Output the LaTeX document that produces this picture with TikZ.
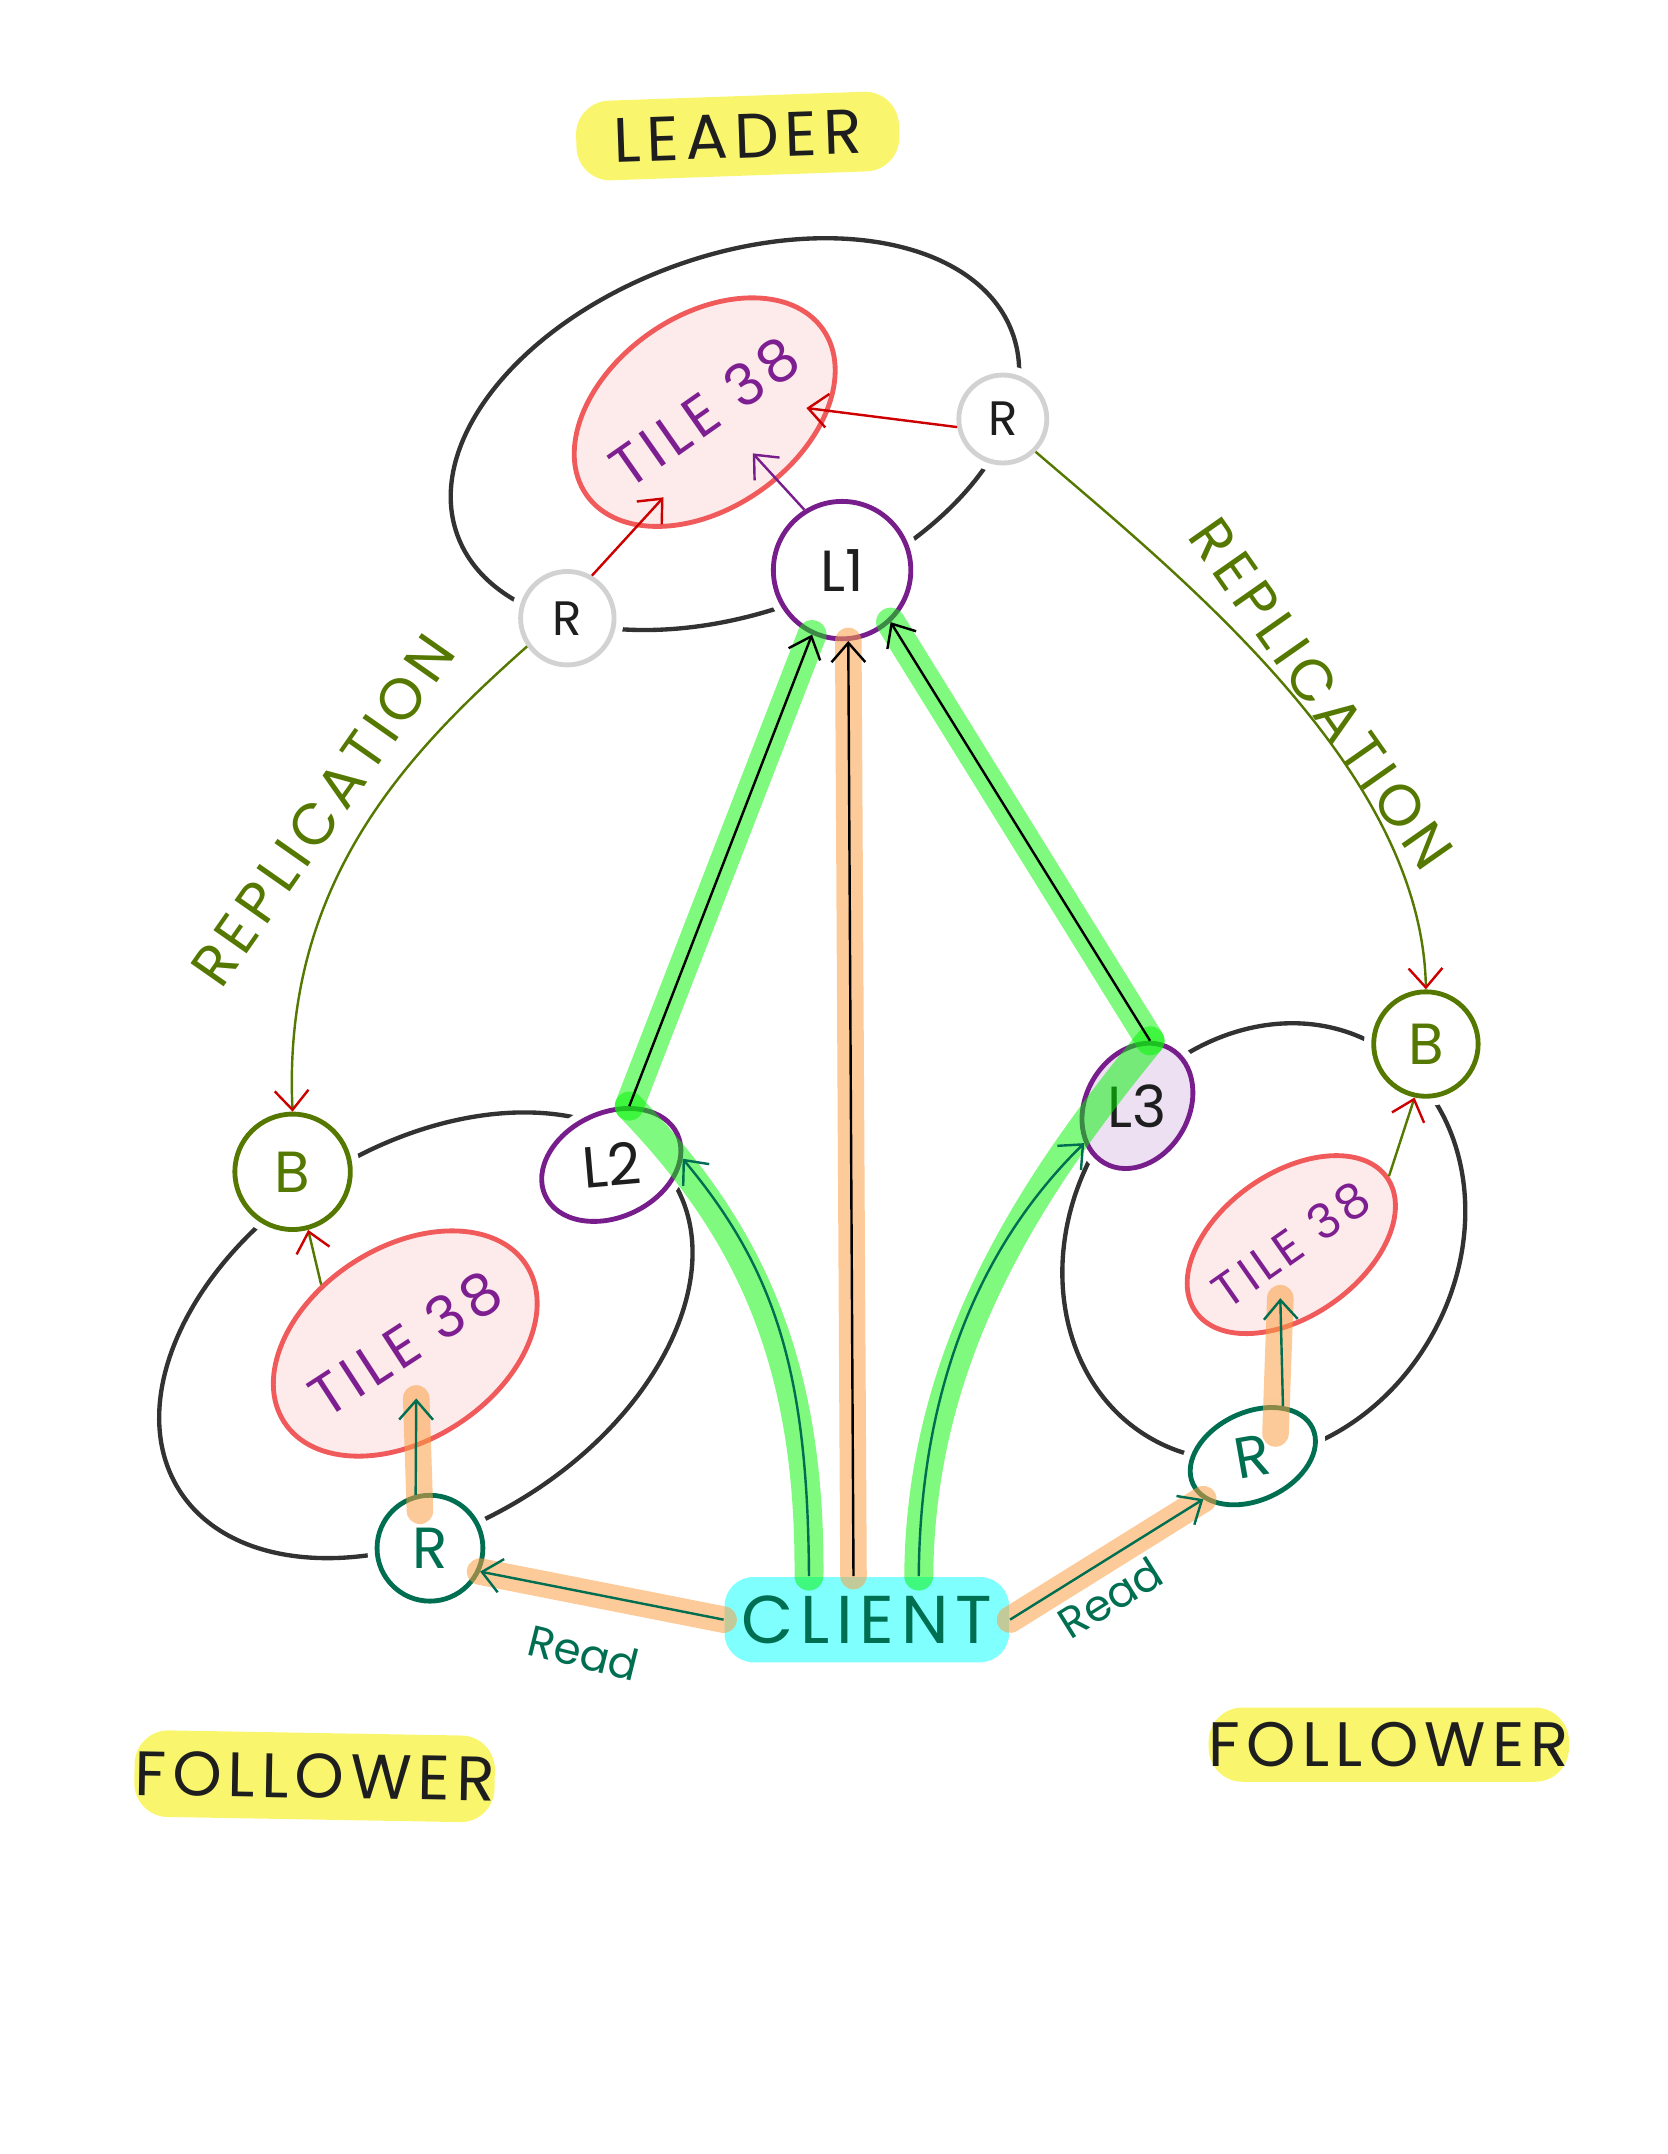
\documentclass[tikz,border=0pt]{standalone}
\usepackage{fontspec}
\setmainfont{Poppins}
\newfontfamily\hand[LetterSpace=10]{Poppins}
\usetikzlibrary{arrows.meta,calc,shapes.geometric}

\definecolor{ringgray}{RGB}{50,50,50}
\definecolor{inkblack}{RGB}{30,30,30}
\definecolor{tileedge}{RGB}{240,90,90}
\definecolor{tilefill}{RGB}{253,234,234}
\definecolor{tilepurple}{RGB}{125,30,145}
\definecolor{lpurple}{RGB}{120,30,140}
\definecolor{lfill}{RGB}{236,224,242}
\definecolor{olivegreen}{RGB}{85,120,0}
\definecolor{arrowred}{RGB}{205,0,0}
\definecolor{readteal}{RGB}{0,110,80}
\definecolor{nodegray}{RGB}{210,210,210}
\definecolor{hlyellow}{RGB}{249,246,110}
\definecolor{hlgreen}{RGB}{0,245,0}
\definecolor{hlorange}{RGB}{250,160,70}
\definecolor{clientcyan}{RGB}{128,255,255}

\newcommand{\tiletxt}[1]{\makebox[0pt]{\hand\fontsize{#1}{14}\selectfont TILE 38}}

\tikzset{
  ring/.style={draw=ringgray, line width=0.9pt},
  tile/.style={ellipse, draw=tileedge, fill=tilefill, line width=1pt,
    text=tilepurple, minimum width=2.1cm, minimum height=1.4cm, inner sep=0pt},
  pnode/.style={fill=white, line width=1pt, inner sep=0pt,
    font=\fontsize{12}{14}\selectfont, text=inkblack,
    preaction={draw=white, line width=4pt}},
  lnode/.style={pnode, draw=lpurple, ellipse},
  bnode/.style={pnode, draw=olivegreen, circle, text=olivegreen, minimum size=0.78cm},
  rnode/.style={pnode, draw=nodegray, circle, minimum size=0.68cm,
    font=\fontsize{10}{12}\selectfont},
  fnode/.style={pnode, draw=readteal, text=readteal, circle, minimum size=0.77cm},
  hlbox/.style={fill=hlyellow, rounded corners=7pt, text=inkblack, inner sep=0pt,
    font=\hand\fontsize{13}{15}\selectfont},
  glow/.style={draw=hlgreen, opacity=0.5, line width=6pt, line cap=round},
  oglow/.style={draw=hlorange, opacity=0.55, line width=5.5pt, line cap=round},
  thin/.style={line width=0.5pt},
  redtip/.style={-{Straight Barb[color=arrowred, length=4pt, width=7pt]}},
  replbl/.style={text=olivegreen, font=\hand\fontsize{12}{14}\selectfont},
  readlbl/.style={text=readteal, font=\fontsize{9}{11}\selectfont},
}

\begin{document}
\begin{tikzpicture}[x=0.01cm, y=-0.01cm, >={Straight Barb[length=4pt, width=7pt]}]
    \useasboundingbox (0,0) rectangle (1214,1568);

    % rings
    \draw[ring, rotate around={20:(535,316)}] (535,316) ellipse [x radius=215, y radius=130];
    \draw[ring, rotate around={32:(310,972)}] (310,972) ellipse [x radius=212, y radius=138];
    \draw[ring, rotate around={60:(920,904)}] (920,904) ellipse [x radius=165, y radius=140];

    % titles
    \node[hlbox, minimum width=2.35cm, minimum height=0.58cm, rotate=2] (leader) at (537,99) {LEADER};
    \node[hlbox, minimum width=2.58cm, minimum height=0.63cm, rotate=-1] (followA) at (229,1293) {FOLLOWER};
    \node[hlbox, minimum width=2.57cm, minimum height=0.54cm] (followB) at (1011,1270) {FOLLOWER};

    % client
    \node[fill=clientcyan, rounded corners=6pt, minimum width=2.07cm, minimum height=0.62cm,
        inner sep=0pt, text=readteal, font=\hand\fontsize{14}{16}\selectfont] (client) at (631,1179) {CLIENT};

    % tiles
    \node[tile, rotate=35] (tileL) at (513,300) {\tiletxt{12}};
    \node[tile, rotate=33] (tileFa) at (295,978) {\tiletxt{12}};
    \node[tile, rotate=35, minimum width=1.7cm, minimum height=1.04cm] (tileFb) at (940,906) {\tiletxt{10}};

    % leader nodes
    \node[rnode] (rL) at (413,450) {R};
    \node[rnode, minimum size=0.64cm] (rR) at (730,305) {R};
    \node[lnode, minimum width=1.0cm, minimum height=1.0cm] (lone) at (613,415) {L1};

    % follower nodes
    \node[bnode, minimum size=0.84cm] (bA) at (213,853) {B};
    \node[lnode, rotate=25, minimum width=1.06cm, minimum height=0.76cm] (ltwo) at (445,848) {\rotatebox{-20}{L2}};
    \node[fnode] (rA) at (313,1127) {R};
    \node[bnode, minimum size=0.76cm] (bB) at (1038,760) {B};
    \node[lnode, fill=lfill, rotate=60, minimum width=0.96cm, minimum height=0.72cm] (lthree) at (828,805) {\rotatebox{-60}{L3}};
    \node[fnode, ellipse, rotate=25, minimum width=0.96cm, minimum height=0.64cm] (rB) at (912,1060) {\rotatebox{-15}{R}};

    % highlights
    \draw[glow] (client.143) .. controls (590,990) and (545,895) .. (ltwo.48);
    \draw[glow] (ltwo.48) -- (lone.245);
    \draw[glow] (client.40) .. controls (670,990) and (745,870) .. (lthree.19);
    \draw[glow] (lthree.19) -- (lone.313);
    \draw[oglow] (client.107) -- (lone.275);
    \draw[oglow] (client.west) -- (rA.-25);
    \draw[oglow] (client.east) -- (rB.196);

    % arrow tips inside the tiles
    \coordinate (tipA) at (483,362);
    \coordinate (tipB) at (587,297);
    \coordinate (tipC) at (548,330);
    \coordinate (tipD) at (303,1018);
    \coordinate (tipE) at (932,945);
    \draw[oglow] ($(rA)!0.7!(rA.105)$) -- (tipD);
    \draw[oglow] ($(rB)!0.5!(rB.20)$) -- (tipE);

    % leader arrows
    \draw[->, thin, arrowred] (rL.60) -- (tipA);
    \draw[->, thin, arrowred] (rR.190) -- (tipB);
    \draw[->, thin, lpurple] (lone.122) -- (tipC);

    % replication
    \draw[thin, olivegreen, redtip] (rL.215) .. controls (300,545) and (205,640) .. (bA.north);
    \draw[thin, olivegreen, redtip] (rR.-45) .. controls (860,420) and (1035,560) .. (bB.north);
    \draw[thin, olivegreen, redtip] (tileFa.112) -- (bA.285);
    \draw[thin, olivegreen, redtip] (tileFb.0) -- (bB.258);

    % writes and reads
    \draw[->, thin, readteal] (client.143) .. controls (588,1000) and (565,925) .. (ltwo.-20);
    \draw[->, thin, readteal] (client.40) .. controls (670,1000) and (720,900) .. (lthree.155);
    \draw[->, thin] (ltwo.48) -- (lone.245);
    \draw[->, thin] (lthree.19) -- (lone.313);
    \draw[->, thin] (client.107) -- (lone.275);
    \draw[->, thin, readteal] (client.west) -- (rA.-25);
    \draw[->, thin, readteal] (client.east) -- (rB.196);
    \draw[->, thin, readteal] (rA.105) -- (tipD);
    \draw[->, thin, readteal] (rB.34) -- (tipE);

    % labels
    \node[replbl, rotate=55] (replA) at (235,590) {REPLICATION};
    \node[replbl, rotate=-55] (replB) at (962,505) {REPLICATION};
    \node[readlbl, rotate=-14] (readA) at (425,1203) {Read};
    \node[readlbl, rotate=32] (readB) at (808,1163) {Read};

\end{tikzpicture}
\end{document}
